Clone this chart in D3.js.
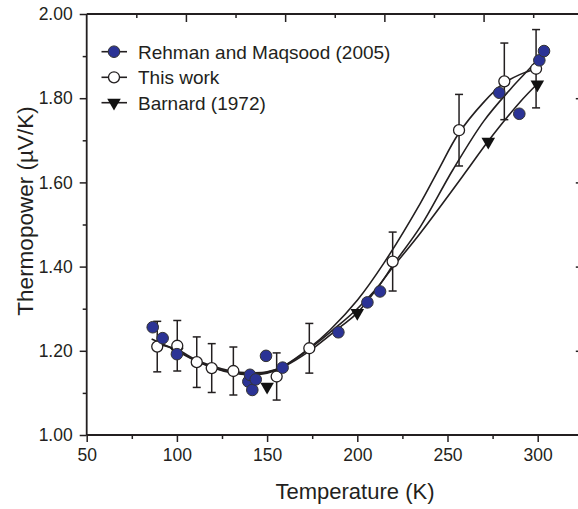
<!DOCTYPE html>
<html><head><meta charset="utf-8">
<script src="https://cdn.jsdelivr.net/npm/d3@7"></script>
<style>html,body{margin:0;padding:0;background:#fff;}svg{display:block;font-family:"Liberation Sans",Arial,sans-serif;}</style>
</head><body>
<svg id="c" width="578" height="509"></svg>
<script>
// ---- data ----
const rehmanT = [86.6, 92.1, 100, 139.6, 140.5, 141.8, 143.7, 149.4, 158.6, 189.5, 205.6, 212.6, 278.7, 289.8, 300.9, 303.5];
const rehmanS = [1.256, 1.230, 1.192, 1.127, 1.143, 1.107, 1.132, 1.188, 1.160, 1.244, 1.315, 1.341, 1.813, 1.763, 1.890, 1.912];

const thisT = [89.1, 100.2, 111, 119.3, 131.3, 155.3, 173.4, 219.6, 256.4, 281.5, 299.1];
const thisS = [1.210, 1.212, 1.173, 1.159, 1.152, 1.139, 1.206, 1.412, 1.724, 1.840, 1.870];
const thisErr = [0.060, 0.060, 0.060, 0.058, 0.057, 0.056, 0.059, 0.070, 0.085, 0.091, 0.093];

const barnardT = [100, 150, 200, 272.6, 299.8];
const barnardS = [1.198, 1.115, 1.290, 1.697, 1.833];

// fitted curves
const fitThisT = [88, 100, 110, 120, 130, 140, 150, 160, 173, 185, 200, 215, 235, 245, 256, 270, 281, 290, 299];
const fitThisS = [1.217, 1.203, 1.180, 1.163, 1.152, 1.148, 1.150, 1.166, 1.205, 1.250, 1.320, 1.410, 1.551, 1.630, 1.715, 1.790, 1.835, 1.856, 1.870];
const fitRehT = [86, 100, 110, 120, 130, 140, 150, 160, 173, 190, 200, 212, 220, 235, 253, 270, 285, 295, 303];
const fitRehS = [1.228, 1.200, 1.178, 1.160, 1.148, 1.143, 1.147, 1.165, 1.203, 1.262, 1.300, 1.355, 1.405, 1.495, 1.630, 1.745, 1.822, 1.868, 1.905];
const fitBarT = [100, 110, 120, 130, 140, 150, 160, 173, 190, 200, 220, 235, 261, 272, 290, 300];
const fitBarS = [1.200, 1.177, 1.160, 1.150, 1.146, 1.149, 1.164, 1.198, 1.255, 1.290, 1.400, 1.480, 1.630, 1.695, 1.790, 1.835];

const xTicks = [50, 100, 150, 200, 250, 300];
const xMinor = [75, 125, 175, 225, 275];
const yTicks = [1.00, 1.20, 1.40, 1.60, 1.80, 2.00];
const yMinor = [1.10, 1.30, 1.50, 1.70, 1.90];
const legendLabels = ["Rehman and Maqsood (2005)", "This work", "Barnard (1972)"];

// ---- layout ----
const L = 86.7, T = 14, R = 582.8, B = 435;
const svg = d3.select("#c");
const x = d3.scaleLinear().domain([50, 325]).range([L, R]);
const y = d3.scaleLinear().domain([1, 2]).range([B, T]);
const topScale = d3.scaleLinear().domain([0, 10]).range([L, R]);
const ink = "#231f20";

// axes
svg.append("g").attr("transform", `translate(0,${B})`)
  .call(d3.axisBottom(x).tickValues(xTicks).tickSize(7).tickPadding(7).tickFormat(d3.format("d")));
svg.append("g").attr("transform", `translate(0,${B})`)
  .call(d3.axisBottom(x).tickValues(xMinor).tickSize(4).tickFormat(""));
svg.append("g").attr("transform", `translate(${L},0)`)
  .call(d3.axisLeft(y).tickValues(yTicks).tickSize(7).tickPadding(7).tickFormat(d3.format(".2f")));
svg.append("g").attr("transform", `translate(${L},0)`)
  .call(d3.axisLeft(y).tickValues(yMinor).tickSize(4).tickFormat(""));
svg.append("g").attr("transform", `translate(0,${T})`)
  .call(d3.axisBottom(topScale).tickValues([1,3,5,7,9]).tickSize(4).tickFormat(""));
svg.append("g").attr("transform", `translate(0,${T})`)
  .call(d3.axisBottom(topScale).tickValues([2,4,6,8,10]).tickSize(8).tickFormat(""));
svg.append("g").attr("transform", `translate(${R},0)`)
  .call(d3.axisRight(y).tickValues([1.2,1.4,1.6,1.8]).tickSize(-7).tickFormat(""));
svg.selectAll(".domain").remove();
svg.selectAll(".tick line").attr("stroke", ink).attr("stroke-width", 1.5);
svg.selectAll(".tick text").attr("fill", ink).style("font-size", "17.5px").style("font-family", "'Liberation Sans',Arial,sans-serif");
// frame lines
svg.append("line").attr("x1", L).attr("x2", R).attr("y1", B).attr("y2", B).attr("stroke", ink).attr("stroke-width", 1.8);
svg.append("line").attr("x1", L).attr("x2", R).attr("y1", T).attr("y2", T).attr("stroke", ink).attr("stroke-width", 1.8);
svg.append("line").attr("x1", L).attr("x2", L).attr("y1", T).attr("y2", B).attr("stroke", ink).attr("stroke-width", 1.8);
svg.append("line").attr("x1", R).attr("x2", R).attr("y1", T).attr("y2", B).attr("stroke", ink).attr("stroke-width", 1.8);

// titles
svg.append("text").attr("x", 355).attr("y", 499).attr("text-anchor", "middle")
  .attr("fill", ink).style("font-size", "22px").text("Temperature (K)");
svg.append("text").attr("transform", "translate(33,211) rotate(-90)").attr("text-anchor", "middle")
  .attr("fill", ink).style("font-size", "22.5px").text("Thermopower (µV/K)");

// curves
const line = d3.line().x(d => x(d[0])).y(d => y(d[1])).curve(d3.curveCatmullRom.alpha(0.5));
[[fitThisT, fitThisS], [fitRehT, fitRehS], [fitBarT, fitBarS]].forEach(([tt, ss]) => {
  svg.append("path").datum(tt.map((t, i) => [t, ss[i]])).attr("d", line)
    .attr("fill", "none").attr("stroke", ink).attr("stroke-width", 1.6);
});

// error bars
const eb = svg.append("g").attr("stroke", ink).attr("stroke-width", 1.5);
thisT.forEach((t, i) => {
  const cx = x(t), y1 = y(thisS[i] + thisErr[i]), y2 = y(thisS[i] - thisErr[i]);
  eb.append("line").attr("x1", cx).attr("x2", cx).attr("y1", y1).attr("y2", y2);
  eb.append("line").attr("x1", cx - 4).attr("x2", cx + 4).attr("y1", y1).attr("y2", y1);
  eb.append("line").attr("x1", cx - 4).attr("x2", cx + 4).attr("y1", y2).attr("y2", y2);
});

const blue = "#2b3395";
const tri = d3.symbol().type(d3.symbolTriangle).size(80);
// markers
svg.append("g").selectAll("path").data(barnardT).join("path")
  .attr("d", tri).attr("transform", (d, i) => `translate(${x(d)},${y(barnardS[i])}) rotate(180)`)
  .attr("fill", "#111");
svg.append("g").selectAll("circle").data(thisT).join("circle")
  .attr("cx", d => x(d)).attr("cy", (d, i) => y(thisS[i])).attr("r", 5.5)
  .attr("fill", "#fff").attr("stroke", ink).attr("stroke-width", 1.3);
svg.append("g").selectAll("circle").data(rehmanT).join("circle")
  .attr("cx", d => x(d)).attr("cy", (d, i) => y(rehmanS[i])).attr("r", 5.8)
  .attr("fill", blue).attr("stroke", "#333").attr("stroke-width", 1);

// legend
const lg = svg.append("g");
const rows = [51.7, 77.3, 102.7];
legendLabels.forEach((lab, i) => {
  const yy = rows[i];
  lg.append("line").attr("x1", 101.5).attr("x2", 127).attr("y1", yy).attr("y2", yy).attr("stroke", ink).attr("stroke-width", 1.6);
  if (i === 0) lg.append("circle").attr("cx", 114).attr("cy", yy).attr("r", 5.8).attr("fill", blue).attr("stroke", "#333");
  if (i === 1) lg.append("circle").attr("cx", 114).attr("cy", yy).attr("r", 5.5).attr("fill", "#fff").attr("stroke", ink).attr("stroke-width", 1.3);
  if (i === 2) lg.append("path").attr("d", tri).attr("transform", `translate(114,${yy}) rotate(180)`).attr("fill", "#111");
  lg.append("text").attr("x", 138).attr("y", yy).attr("dy", "0.36em").attr("fill", ink)
    .style("font-size", "19px").text(lab);
});
</script>
</body></html>
